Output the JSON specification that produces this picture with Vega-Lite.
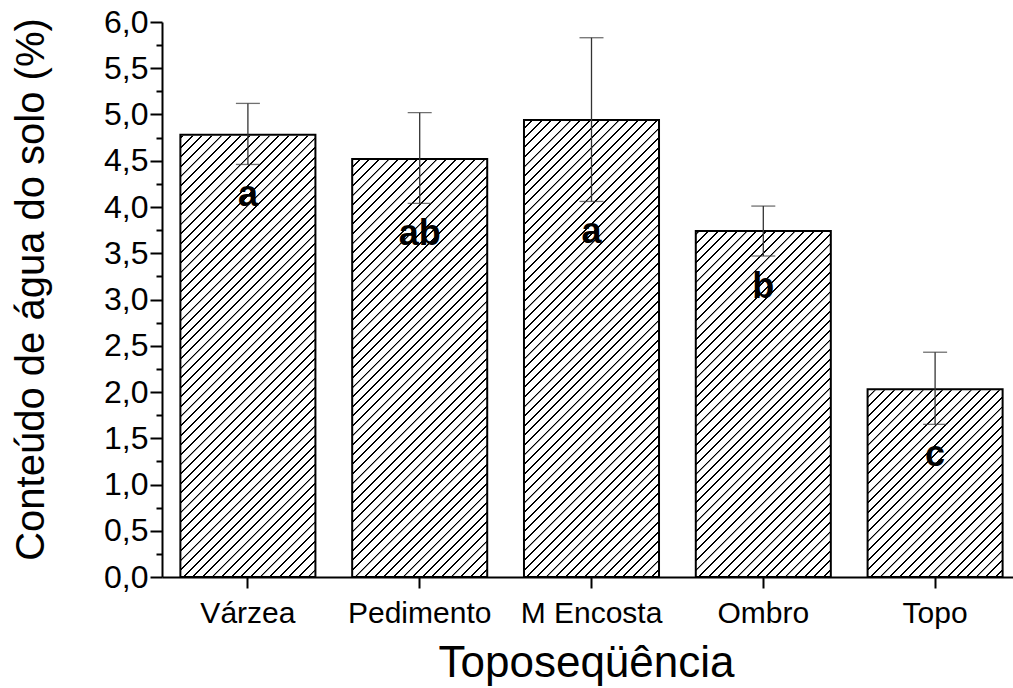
{
  "$schema": "https://vega.github.io/schema/vega-lite/v6.json",
  "width": 851,
  "height": 555,
  "autosize": {"type": "none"},
  "padding": {"left": 162, "top": 22, "right": 0, "bottom": 111},
  "background": "white",
  "config": {
    "view": {"stroke": null},
    "axis": {
      "domainColor": "#000", "domainWidth": 2, "tickColor": "#000", "tickWidth": 2,
      "labelColor": "#000", "titleColor": "#000", "labelFont": "Liberation Sans",
      "titleFont": "Liberation Sans", "titleFontWeight": "normal", "grid": false
    }
  },
  "data": {"values": [
    {"site": "Várzea", "mean": 4.78, "lo": 4.46, "hi": 5.12, "letter": "a"},
    {"site": "Pedimento", "mean": 4.52, "lo": 4.04, "hi": 5.02, "letter": "ab"},
    {"site": "M Encosta", "mean": 4.94, "lo": 4.06, "hi": 5.83, "letter": "a"},
    {"site": "Ombro", "mean": 3.74, "lo": 3.47, "hi": 4.01, "letter": "b"},
    {"site": "Topo", "mean": 2.03, "lo": 1.65, "hi": 2.43, "letter": "c"}
  ]},
  "resolve": {"axis": {"y": "independent"}},
  "encoding": {
    "x": {
      "field": "site", "type": "nominal", "sort": null,
      "scale": {"range": [0, 859], "paddingInner": 0.214, "paddingOuter": 0.107},
      "axis": {
        "title": "Toposeqüência", "labelAngle": 0, "labelFontSize": 30, "tickSize": 11,
        "labelPadding": 10, "titleFontSize": 44, "titleX": 424, "titleY": 99,
        "titleBaseline": "alphabetic", "titleAlign": "center"
      }
    }
  },
  "layer": [
    {
      "mark": {"type": "bar", "strokeWidth": 0, "fill": {
        "gradient": "linear", "x1": 0, "y1": 0, "x2": 0.39731, "y2": 1.63306,
        "stops": [
{"offset":0,"color":"#fff"},{"offset":0.0002,"color":"#000"},{"offset":0.002,"color":"#000"},{"offset":0.0022,"color":"#fff"},
{"offset":0.01,"color":"#fff"},{"offset":0.0102,"color":"#000"},{"offset":0.012,"color":"#000"},{"offset":0.0122,"color":"#fff"},
{"offset":0.02,"color":"#fff"},{"offset":0.0202,"color":"#000"},{"offset":0.022,"color":"#000"},{"offset":0.0222,"color":"#fff"},
{"offset":0.03,"color":"#fff"},{"offset":0.0302,"color":"#000"},{"offset":0.032,"color":"#000"},{"offset":0.0322,"color":"#fff"},
{"offset":0.04,"color":"#fff"},{"offset":0.0402,"color":"#000"},{"offset":0.042,"color":"#000"},{"offset":0.0422,"color":"#fff"},
{"offset":0.05,"color":"#fff"},{"offset":0.0502,"color":"#000"},{"offset":0.052,"color":"#000"},{"offset":0.0522,"color":"#fff"},
{"offset":0.06,"color":"#fff"},{"offset":0.0602,"color":"#000"},{"offset":0.062,"color":"#000"},{"offset":0.0622,"color":"#fff"},
{"offset":0.07,"color":"#fff"},{"offset":0.0702,"color":"#000"},{"offset":0.072,"color":"#000"},{"offset":0.0722,"color":"#fff"},
{"offset":0.08,"color":"#fff"},{"offset":0.0802,"color":"#000"},{"offset":0.082,"color":"#000"},{"offset":0.0822,"color":"#fff"},
{"offset":0.09,"color":"#fff"},{"offset":0.0902,"color":"#000"},{"offset":0.092,"color":"#000"},{"offset":0.0922,"color":"#fff"},
{"offset":0.10,"color":"#fff"},{"offset":0.1002,"color":"#000"},{"offset":0.102,"color":"#000"},{"offset":0.1022,"color":"#fff"},
{"offset":0.11,"color":"#fff"},{"offset":0.1102,"color":"#000"},{"offset":0.112,"color":"#000"},{"offset":0.1122,"color":"#fff"},
{"offset":0.12,"color":"#fff"},{"offset":0.1202,"color":"#000"},{"offset":0.122,"color":"#000"},{"offset":0.1222,"color":"#fff"},
{"offset":0.13,"color":"#fff"},{"offset":0.1302,"color":"#000"},{"offset":0.132,"color":"#000"},{"offset":0.1322,"color":"#fff"},
{"offset":0.14,"color":"#fff"},{"offset":0.1402,"color":"#000"},{"offset":0.142,"color":"#000"},{"offset":0.1422,"color":"#fff"},
{"offset":0.15,"color":"#fff"},{"offset":0.1502,"color":"#000"},{"offset":0.152,"color":"#000"},{"offset":0.1522,"color":"#fff"},
{"offset":0.16,"color":"#fff"},{"offset":0.1602,"color":"#000"},{"offset":0.162,"color":"#000"},{"offset":0.1622,"color":"#fff"},
{"offset":0.17,"color":"#fff"},{"offset":0.1702,"color":"#000"},{"offset":0.172,"color":"#000"},{"offset":0.1722,"color":"#fff"},
{"offset":0.18,"color":"#fff"},{"offset":0.1802,"color":"#000"},{"offset":0.182,"color":"#000"},{"offset":0.1822,"color":"#fff"},
{"offset":0.19,"color":"#fff"},{"offset":0.1902,"color":"#000"},{"offset":0.192,"color":"#000"},{"offset":0.1922,"color":"#fff"},
{"offset":0.20,"color":"#fff"},{"offset":0.2002,"color":"#000"},{"offset":0.202,"color":"#000"},{"offset":0.2022,"color":"#fff"},
{"offset":0.21,"color":"#fff"},{"offset":0.2102,"color":"#000"},{"offset":0.212,"color":"#000"},{"offset":0.2122,"color":"#fff"},
{"offset":0.22,"color":"#fff"},{"offset":0.2202,"color":"#000"},{"offset":0.222,"color":"#000"},{"offset":0.2222,"color":"#fff"},
{"offset":0.23,"color":"#fff"},{"offset":0.2302,"color":"#000"},{"offset":0.232,"color":"#000"},{"offset":0.2322,"color":"#fff"},
{"offset":0.24,"color":"#fff"},{"offset":0.2402,"color":"#000"},{"offset":0.242,"color":"#000"},{"offset":0.2422,"color":"#fff"},
{"offset":0.25,"color":"#fff"},{"offset":0.2502,"color":"#000"},{"offset":0.252,"color":"#000"},{"offset":0.2522,"color":"#fff"},
{"offset":0.26,"color":"#fff"},{"offset":0.2602,"color":"#000"},{"offset":0.262,"color":"#000"},{"offset":0.2622,"color":"#fff"},
{"offset":0.27,"color":"#fff"},{"offset":0.2702,"color":"#000"},{"offset":0.272,"color":"#000"},{"offset":0.2722,"color":"#fff"},
{"offset":0.28,"color":"#fff"},{"offset":0.2802,"color":"#000"},{"offset":0.282,"color":"#000"},{"offset":0.2822,"color":"#fff"},
{"offset":0.29,"color":"#fff"},{"offset":0.2902,"color":"#000"},{"offset":0.292,"color":"#000"},{"offset":0.2922,"color":"#fff"},
{"offset":0.30,"color":"#fff"},{"offset":0.3002,"color":"#000"},{"offset":0.302,"color":"#000"},{"offset":0.3022,"color":"#fff"},
{"offset":0.31,"color":"#fff"},{"offset":0.3102,"color":"#000"},{"offset":0.312,"color":"#000"},{"offset":0.3122,"color":"#fff"},
{"offset":0.32,"color":"#fff"},{"offset":0.3202,"color":"#000"},{"offset":0.322,"color":"#000"},{"offset":0.3222,"color":"#fff"},
{"offset":0.33,"color":"#fff"},{"offset":0.3302,"color":"#000"},{"offset":0.332,"color":"#000"},{"offset":0.3322,"color":"#fff"},
{"offset":0.34,"color":"#fff"},{"offset":0.3402,"color":"#000"},{"offset":0.342,"color":"#000"},{"offset":0.3422,"color":"#fff"},
{"offset":0.35,"color":"#fff"},{"offset":0.3502,"color":"#000"},{"offset":0.352,"color":"#000"},{"offset":0.3522,"color":"#fff"},
{"offset":0.36,"color":"#fff"},{"offset":0.3602,"color":"#000"},{"offset":0.362,"color":"#000"},{"offset":0.3622,"color":"#fff"},
{"offset":0.37,"color":"#fff"},{"offset":0.3702,"color":"#000"},{"offset":0.372,"color":"#000"},{"offset":0.3722,"color":"#fff"},
{"offset":0.38,"color":"#fff"},{"offset":0.3802,"color":"#000"},{"offset":0.382,"color":"#000"},{"offset":0.3822,"color":"#fff"},
{"offset":0.39,"color":"#fff"},{"offset":0.3902,"color":"#000"},{"offset":0.392,"color":"#000"},{"offset":0.3922,"color":"#fff"},
{"offset":0.40,"color":"#fff"},{"offset":0.4002,"color":"#000"},{"offset":0.402,"color":"#000"},{"offset":0.4022,"color":"#fff"},
{"offset":0.41,"color":"#fff"},{"offset":0.4102,"color":"#000"},{"offset":0.412,"color":"#000"},{"offset":0.4122,"color":"#fff"},
{"offset":0.42,"color":"#fff"},{"offset":0.4202,"color":"#000"},{"offset":0.422,"color":"#000"},{"offset":0.4222,"color":"#fff"},
{"offset":0.43,"color":"#fff"},{"offset":0.4302,"color":"#000"},{"offset":0.432,"color":"#000"},{"offset":0.4322,"color":"#fff"},
{"offset":0.44,"color":"#fff"},{"offset":0.4402,"color":"#000"},{"offset":0.442,"color":"#000"},{"offset":0.4422,"color":"#fff"},
{"offset":0.45,"color":"#fff"},{"offset":0.4502,"color":"#000"},{"offset":0.452,"color":"#000"},{"offset":0.4522,"color":"#fff"},
{"offset":0.46,"color":"#fff"},{"offset":0.4602,"color":"#000"},{"offset":0.462,"color":"#000"},{"offset":0.4622,"color":"#fff"},
{"offset":0.47,"color":"#fff"},{"offset":0.4702,"color":"#000"},{"offset":0.472,"color":"#000"},{"offset":0.4722,"color":"#fff"},
{"offset":0.48,"color":"#fff"},{"offset":0.4802,"color":"#000"},{"offset":0.482,"color":"#000"},{"offset":0.4822,"color":"#fff"},
{"offset":0.49,"color":"#fff"},{"offset":0.4902,"color":"#000"},{"offset":0.492,"color":"#000"},{"offset":0.4922,"color":"#fff"},
{"offset":0.50,"color":"#fff"},{"offset":0.5002,"color":"#000"},{"offset":0.502,"color":"#000"},{"offset":0.5022,"color":"#fff"},
{"offset":0.51,"color":"#fff"},{"offset":0.5102,"color":"#000"},{"offset":0.512,"color":"#000"},{"offset":0.5122,"color":"#fff"},
{"offset":0.52,"color":"#fff"},{"offset":0.5202,"color":"#000"},{"offset":0.522,"color":"#000"},{"offset":0.5222,"color":"#fff"},
{"offset":0.53,"color":"#fff"},{"offset":0.5302,"color":"#000"},{"offset":0.532,"color":"#000"},{"offset":0.5322,"color":"#fff"},
{"offset":0.54,"color":"#fff"},{"offset":0.5402,"color":"#000"},{"offset":0.542,"color":"#000"},{"offset":0.5422,"color":"#fff"},
{"offset":0.55,"color":"#fff"},{"offset":0.5502,"color":"#000"},{"offset":0.552,"color":"#000"},{"offset":0.5522,"color":"#fff"},
{"offset":0.56,"color":"#fff"},{"offset":0.5602,"color":"#000"},{"offset":0.562,"color":"#000"},{"offset":0.5622,"color":"#fff"},
{"offset":0.57,"color":"#fff"},{"offset":0.5702,"color":"#000"},{"offset":0.572,"color":"#000"},{"offset":0.5722,"color":"#fff"},
{"offset":0.58,"color":"#fff"},{"offset":0.5802,"color":"#000"},{"offset":0.582,"color":"#000"},{"offset":0.5822,"color":"#fff"},
{"offset":0.59,"color":"#fff"},{"offset":0.5902,"color":"#000"},{"offset":0.592,"color":"#000"},{"offset":0.5922,"color":"#fff"},
{"offset":0.60,"color":"#fff"},{"offset":0.6002,"color":"#000"},{"offset":0.602,"color":"#000"},{"offset":0.6022,"color":"#fff"},
{"offset":0.61,"color":"#fff"},{"offset":0.6102,"color":"#000"},{"offset":0.612,"color":"#000"},{"offset":0.6122,"color":"#fff"},
{"offset":0.62,"color":"#fff"},{"offset":0.6202,"color":"#000"},{"offset":0.622,"color":"#000"},{"offset":0.6222,"color":"#fff"},
{"offset":0.63,"color":"#fff"},{"offset":0.6302,"color":"#000"},{"offset":0.632,"color":"#000"},{"offset":0.6322,"color":"#fff"},
{"offset":0.64,"color":"#fff"},{"offset":0.6402,"color":"#000"},{"offset":0.642,"color":"#000"},{"offset":0.6422,"color":"#fff"},
{"offset":0.65,"color":"#fff"},{"offset":0.6502,"color":"#000"},{"offset":0.652,"color":"#000"},{"offset":0.6522,"color":"#fff"},
{"offset":0.66,"color":"#fff"},{"offset":0.6602,"color":"#000"},{"offset":0.662,"color":"#000"},{"offset":0.6622,"color":"#fff"},
{"offset":0.67,"color":"#fff"},{"offset":0.6702,"color":"#000"},{"offset":0.672,"color":"#000"},{"offset":0.6722,"color":"#fff"},
{"offset":0.68,"color":"#fff"},{"offset":0.6802,"color":"#000"},{"offset":0.682,"color":"#000"},{"offset":0.6822,"color":"#fff"},
{"offset":0.69,"color":"#fff"},{"offset":0.6902,"color":"#000"},{"offset":0.692,"color":"#000"},{"offset":0.6922,"color":"#fff"},
{"offset":0.70,"color":"#fff"},{"offset":0.7002,"color":"#000"},{"offset":0.702,"color":"#000"},{"offset":0.7022,"color":"#fff"},
{"offset":0.71,"color":"#fff"},{"offset":0.7102,"color":"#000"},{"offset":0.712,"color":"#000"},{"offset":0.7122,"color":"#fff"},
{"offset":1,"color":"#fff"}
        ]
      }},
      "encoding": {
        "y": {"datum": 0, "type": "quantitative", "scale": {"domain": [0, 6], "nice": false, "zero": true}, "axis": null},
        "y2": {"datum": 6}
      }
    },
    {
      "mark": {"type": "bar", "fill": "#fff", "stroke": "#fff", "strokeWidth": 2},
      "encoding": {
        "y": {"field": "mean", "type": "quantitative", "scale": {"domain": [0, 6], "nice": false}, "axis": null},
        "y2": {"datum": 6}
      }
    },
    {
      "mark": {"type": "bar", "fillOpacity": 0, "stroke": "#000", "strokeWidth": 2},
      "encoding": {
        "y": {
          "field": "mean", "type": "quantitative",
          "scale": {"domain": [0, 6], "nice": false},
          "axis": {
            "orient": "left",
            "title": "Conteúdo de água do solo (%)",
            "values": [0,0.5,1,1.5,2,2.5,3,3.5,4,4.5,5,5.5,6],
            "labelExpr": "replace(format(datum.value, '.1f'), '.', ',')",
            "tickSize": 12,
            "labelFontSize": 32, "labelPadding": 2, "labelBaseline": "middle",
            "titleFontSize": 40, "titleAngle": -90, "titleX": -119, "titleY": 267,
            "titleBaseline": "alphabetic", "titleAlign": "center"
          }
        }
      }
    },
    {
      "mark": {"type": "rule", "color": "#333", "strokeWidth": 1.3},
      "encoding": {
        "y": {
          "field": "lo", "type": "quantitative", "scale": {"domain": [0, 6], "nice": false},
          "axis": {
            "orient": "left", "title": null, "labels": false, "domain": false, "tickSize": 6,
            "values": [0.25,0.75,1.25,1.75,2.25,2.75,3.25,3.75,4.25,4.75,5.25,5.75]
          }
        },
        "y2": {"field": "hi"}
      }
    },
    {
      "mark": {"type": "tick", "color": "#333", "size": 24, "thickness": 1.3, "orient": "horizontal"},
      "encoding": {
        "y": {"field": "lo", "type": "quantitative", "scale": {"domain": [0, 6], "nice": false}, "axis": null}
      }
    },
    {
      "mark": {"type": "tick", "color": "#333", "size": 24, "thickness": 1.3, "orient": "horizontal"},
      "encoding": {
        "y": {"field": "hi", "type": "quantitative", "scale": {"domain": [0, 6], "nice": false}, "axis": null}
      }
    },
    {
      "mark": {"type": "text", "font": "Liberation Sans", "fontWeight": "bold", "fontSize": 36, "color": "#000", "baseline": "alphabetic", "align": "center", "dy": 42},
      "encoding": {
        "y": {"field": "lo", "type": "quantitative", "scale": {"domain": [0, 6], "nice": false}, "axis": null},
        "text": {"field": "letter"}
      }
    }
  ]
}
